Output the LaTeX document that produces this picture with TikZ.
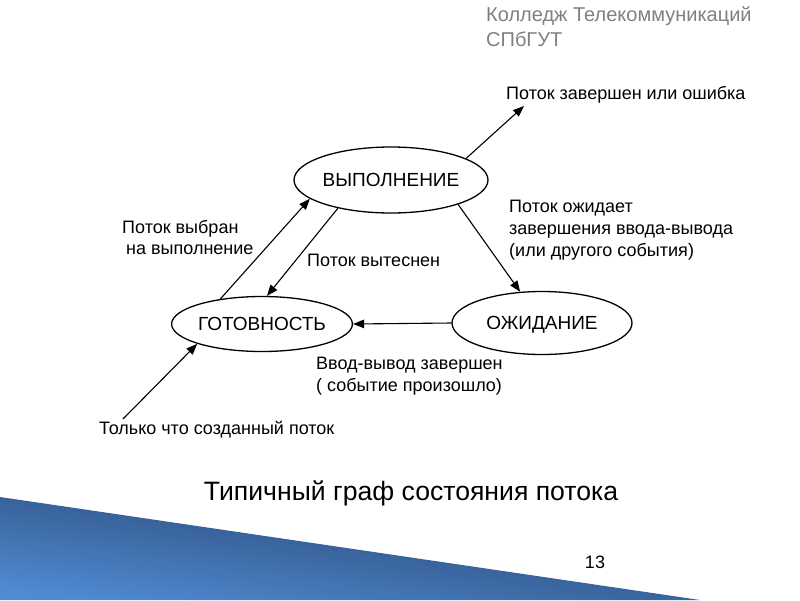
\documentclass[tikz,border=0pt]{standalone}
\usepackage{fontspec}
\setmainfont{Liberation Sans}
\usetikzlibrary{shapes.geometric,arrows.meta}
\pgfdeclarelayer{edgelayer}
\pgfdeclarelayer{nodelayer}
\pgfsetlayers{edgelayer,nodelayer,main}
\definecolor{slidegray}{RGB}{128,128,128}
\definecolor{wedgedark}{RGB}{34,60,100}
\definecolor{wedgelight}{RGB}{80,138,210}
\tikzstyle{edge}=[draw=black, line width=1.1pt, -{Triangle[length=11pt,width=8.5pt]}]
\tikzstyle{state}=[ellipse, fill=white, draw=black, line width=1.3pt, inner sep=0pt, text height=13.6pt, text depth=0pt, font=\fontsize{19}{19}\selectfont]
\tikzstyle{note}=[inner sep=0pt, align=left, font=\fontsize{18}{21.5}\selectfont]

\begin{document}
\begin{tikzpicture}[x=1pt,y=-1pt]
	\useasboundingbox (0,0) rectangle (800,600);
	\shade [top color=wedgedark, bottom color=wedgelight, shading angle=-8] (0,497) -- (700,600) -- (0,600) -- cycle;
				\begin{pgfonlayer}{nodelayer}
					\node [style=state, minimum width=194pt, minimum height=66pt] (run) at (391,180) {ВЫПОЛНЕНИЕ};
					\node [style=state, minimum width=178pt, minimum height=55pt] (ready) at (262,324) {ГОТОВНОСТЬ};
					\node [style=state, minimum width=180pt, minimum height=63pt] (wait) at (542,323) {ОЖИДАНИЕ};
					\node [style=note, anchor=west] (exitlabel) at (506,95) {Поток завершен или ошибка};
					\node [style=note, anchor=north west] (chosen) at (122,220) {Поток выбран\\\hspace*{4pt}на выполнение};
					\node [style=note, anchor=west] (preempt) at (307,260) {Поток вытеснен};
					\node [style=note, anchor=north west, font=\fontsize{18}{22}\selectfont] (waits) at (509,200) {Поток ожидает\\завершения ввода-вывода\\(или другого события)};
					\node [style=note, anchor=north west] (iodone) at (316,357) {Ввод-вывод завершен\\( событие произошло)};
					\node [style=note, anchor=west] (bornlabel) at (99,430) {Только что созданный поток};
					\node [font=\fontsize{26.6}{26.6}\selectfont] (title) at (411,493) {Типичный граф состояния потока};
					\node [font=\fontsize{18}{18}\selectfont] (page) at (595,562) {13};
					\node [anchor=north west, align=left, text=slidegray, inner sep=0pt, font=\fontsize{20}{25}\selectfont] (college) at (486,6) {Колледж Телекоммуникаций\\СПбГУТ};
					\coordinate (exit) at (524,106);
					\coordinate (born) at (123,419);
				\end{pgfonlayer}
				\begin{pgfonlayer}{edgelayer}
					\draw [style=edge] (ready.149) to (run.-167);
					\draw [style=edge] (run.-152) to (ready.80);
					\draw [style=edge] (run.-20) to (wait.125);
					\draw [style=edge] (wait.west) to (ready.east);
					\draw [style=edge] (run.16) to (exit);
					\draw [style=edge] (born) to (ready.-163);
				\end{pgfonlayer}
			\end{tikzpicture}
\end{document}
